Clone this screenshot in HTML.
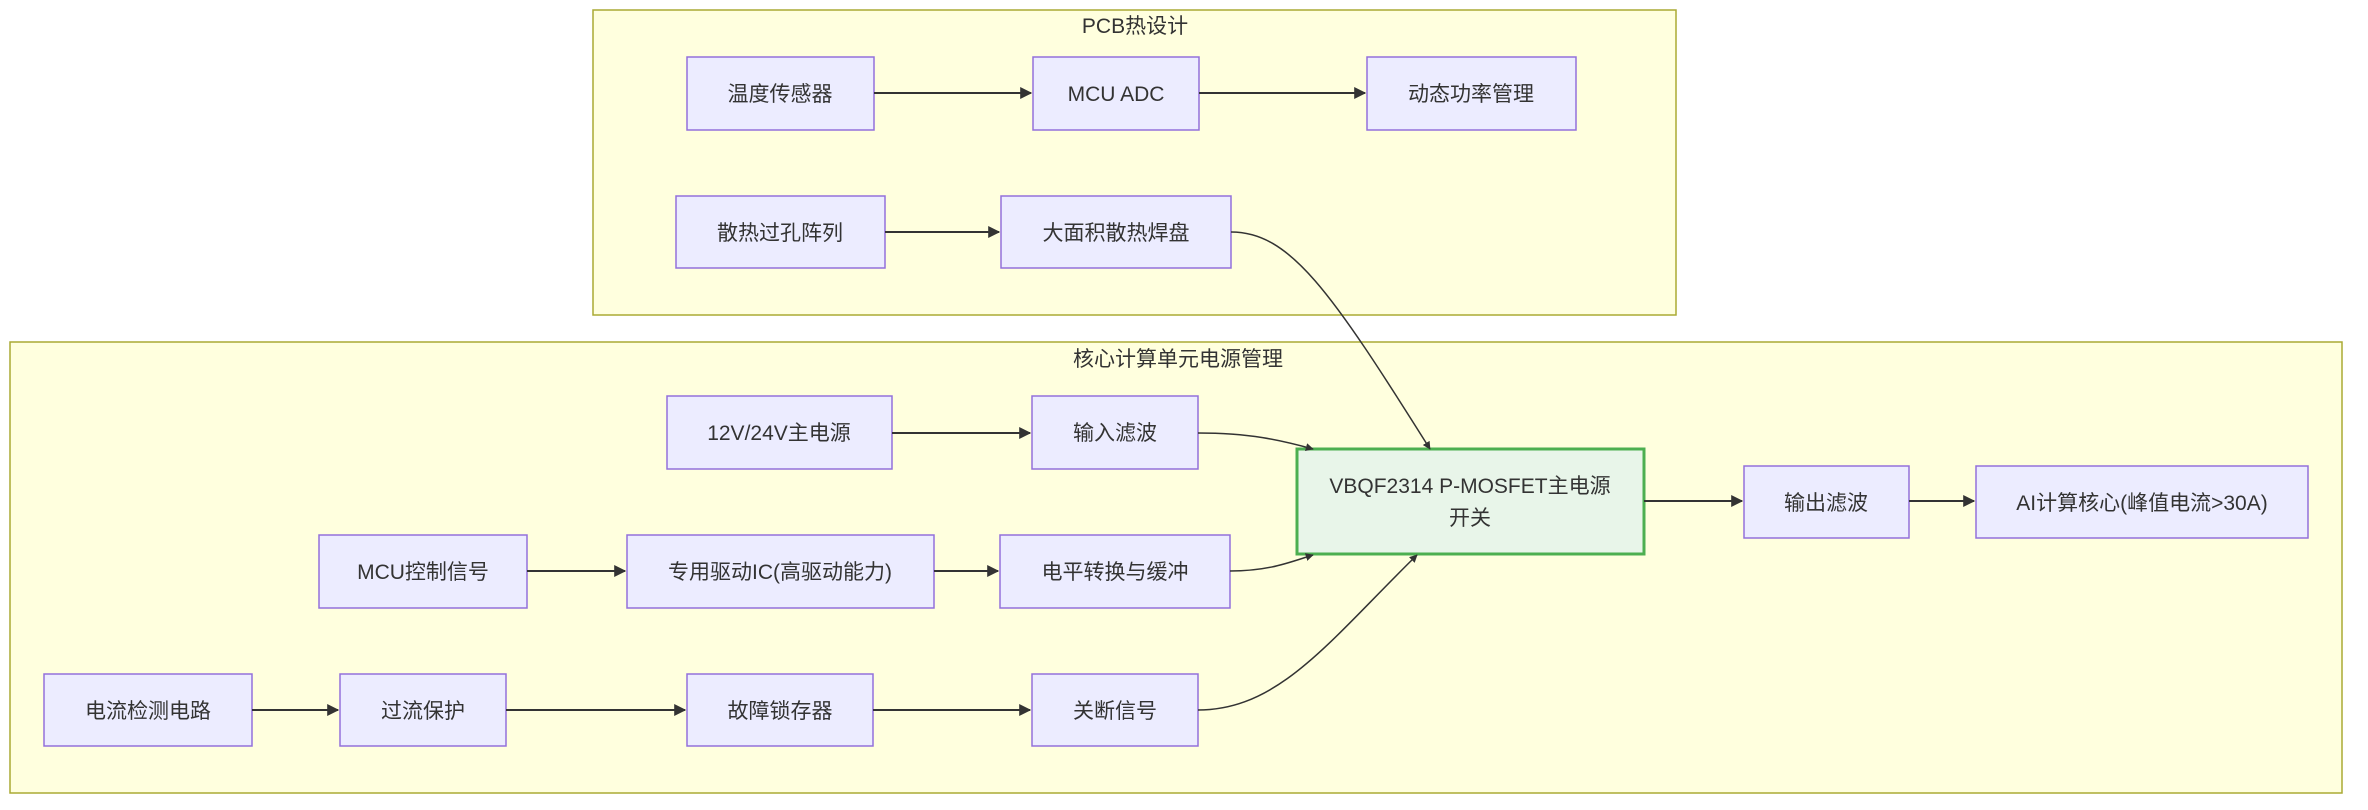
<!DOCTYPE html>
<html><head><meta charset="utf-8"><style>
html,body{margin:0;padding:0;background:#fff;}
svg{display:block;}
text{font-family:"Liberation Sans","Noto Sans CJK SC",sans-serif;font-size:21px;fill:#333;}
.n{fill:#ECECFF;stroke:#9370DB;stroke-width:1.5;}
.c{fill:#ffffde;stroke:#aaaa33;stroke-width:1.5;}
.e{stroke:#333;stroke-width:2;fill:none;}
.ec{stroke:#333;stroke-width:1.5;fill:none;}
</style></head><body>
<svg width="2368" height="810" viewBox="0 0 2368 810" xmlns="http://www.w3.org/2000/svg">
<defs><marker id="a" viewBox="0 0 10 10" refX="9" refY="5" markerWidth="8" markerHeight="8" markerUnits="userSpaceOnUse" orient="auto"><path d="M0,0L10,5L0,10z" fill="#333"/></marker>
<marker id="b" viewBox="0 0 10 10" refX="9" refY="5" markerWidth="12" markerHeight="12" markerUnits="userSpaceOnUse" orient="auto"><path d="M0,0L10,5L0,10z" fill="#333"/></marker></defs>
<rect class="c" x="593" y="10" width="1083" height="305"/>
<rect class="c" x="10" y="342" width="2332" height="451"/>
<text x="1135" y="33" text-anchor="middle">PCB热设计</text>
<text x="1178" y="366" text-anchor="middle">核心计算单元电源管理</text>
<g text-anchor="middle">
<rect class="n" x="687" y="57" width="187" height="73"/><text x="780" y="101">温度传感器</text>
<rect class="n" x="1033" y="57" width="166" height="73"/><text x="1116" y="101">MCU ADC</text>
<rect class="n" x="1367" y="57" width="209" height="73"/><text x="1471" y="101">动态功率管理</text>
<rect class="n" x="676" y="196" width="209" height="72"/><text x="780" y="240">散热过孔阵列</text>
<rect class="n" x="1001" y="196" width="230" height="72"/><text x="1116" y="240">大面积散热焊盘</text>
<rect class="n" x="667" y="396" width="225" height="73"/><text x="779" y="440">12V/24V主电源</text>
<rect class="n" x="1032" y="396" width="166" height="73"/><text x="1115" y="440">输入滤波</text>
<rect class="n" x="319" y="535" width="208" height="73"/><text x="423" y="579">MCU控制信号</text>
<rect class="n" x="627" y="535" width="307" height="73"/><text x="780" y="579">专用驱动IC(高驱动能力)</text>
<rect class="n" x="1000" y="535" width="230" height="73"/><text x="1115" y="579">电平转换与缓冲</text>
<rect class="n" x="44" y="674" width="208" height="72"/><text x="148" y="718">电流检测电路</text>
<rect class="n" x="340" y="674" width="166" height="72"/><text x="423" y="718">过流保护</text>
<rect class="n" x="687" y="674" width="186" height="72"/><text x="780" y="718">故障锁存器</text>
<rect class="n" x="1032" y="674" width="166" height="72"/><text x="1115" y="718">关断信号</text>
<rect x="1297" y="449" width="347" height="105" fill="#e8f5e9" stroke="#4caf50" stroke-width="3"/>
<text x="1470" y="493">VBQF2314 P-MOSFET主电源</text><text x="1470" y="525">开关</text>
<rect class="n" x="1744" y="466" width="165" height="72"/><text x="1826" y="510">输出滤波</text>
<rect class="n" x="1976" y="466" width="332" height="72"/><text x="2142" y="510">AI计算核心(峰值电流&gt;30A)</text>
</g>
<g class="e" marker-end="url(#b)">
<path d="M874,93H1031"/><path d="M1199,93H1365"/><path d="M885,232H999"/>
<path d="M892,433H1030"/><path d="M527,571H625"/><path d="M934,571H998"/>
<path d="M252,710H338"/><path d="M506,710H685"/><path d="M873,710H1030"/>
<path d="M1644,501H1742"/><path d="M1909,501H1974"/>
</g>
<g class="ec" marker-end="url(#a)">
<path d="M1231,232C1290,232 1330,290 1430,449"/>
<path d="M1198,433C1250,433 1280,440 1313,449"/>
<path d="M1230,571C1270,571 1290,562 1313,555"/>
<path d="M1198,710C1280,710 1330,640 1417,555"/>
</g>
</svg>
</body></html>
